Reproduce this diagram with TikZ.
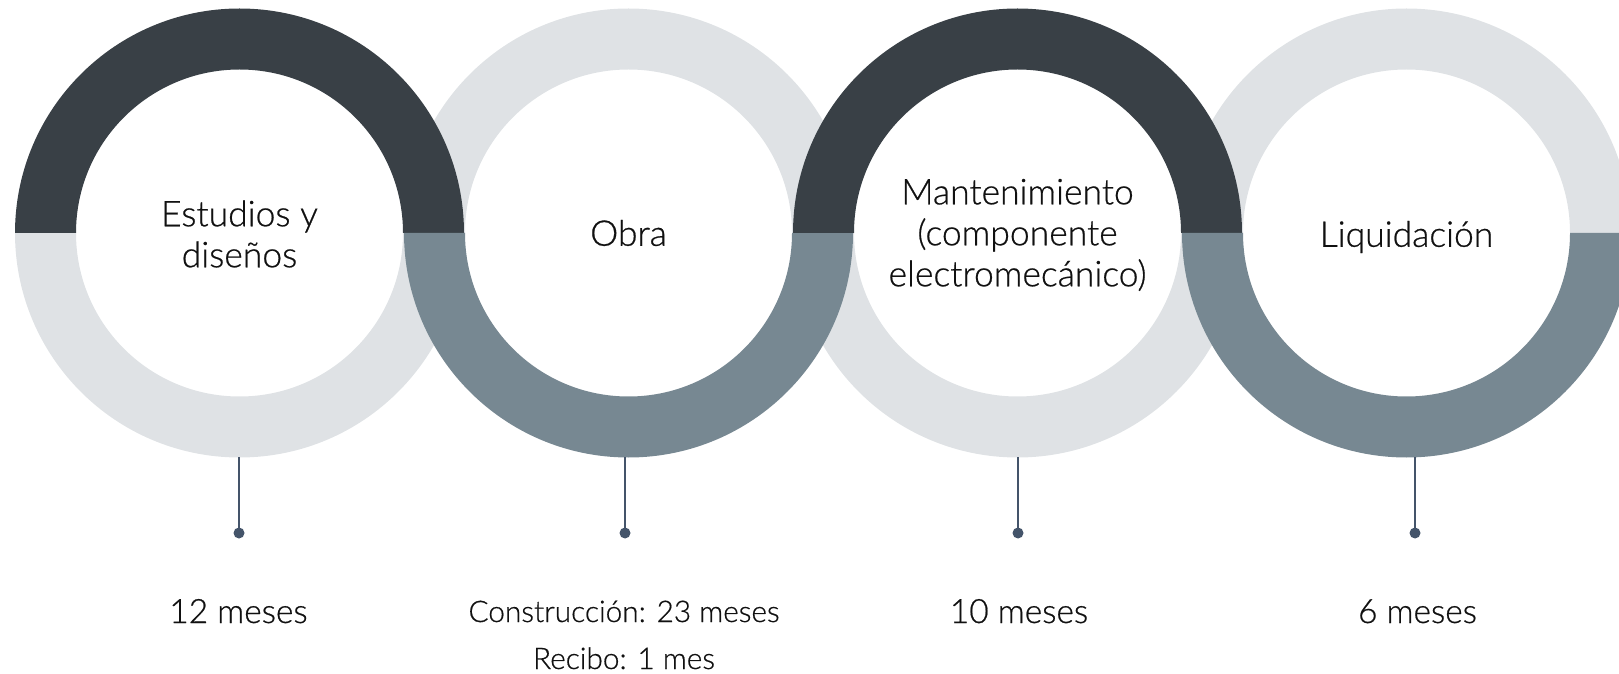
\documentclass[tikz,border=0pt]{standalone}
\usepackage{fontspec}
\IfFontExistsTF{Lato Light}{\setmainfont{Lato Light}[FakeBold=0.6]}{\setmainfont{Lato}}
\definecolor{ringdark}{HTML}{394046}
\definecolor{ringlight}{HTML}{DFE2E5}
\definecolor{ringmid}{HTML}{778892}
\definecolor{stem}{HTML}{44546A}
\definecolor{txt}{HTML}{111111}
\tikzset{
  stemline/.style={draw=stem, line width=2.5pt},
  stemdot/.style={circle, fill=stem, inner sep=0pt, minimum size=11pt},
  ringlabel/.style={align=center, text=txt, font=\fontsize{35.5}{41}\selectfont, inner sep=0pt},
  timelabel/.style={anchor=base, text=txt, font=\fontsize{33.5}{38}\selectfont, inner sep=0pt},
  timelabelsm/.style={anchor=base, text=txt, font=\fontsize{29.8}{34}\selectfont, inner sep=0pt}
}
\newcommand{\tophalf}[2]{%
  \fill[#2] (#1) ++(224.5,0) arc[start angle=0,end angle=180,radius=224.5] -- ++(61,0)
     arc[start angle=180,end angle=0,radius=163.5] -- cycle;}
\newcommand{\bothalf}[2]{%
  \fill[#2] (#1) ++(224.5,0) arc[start angle=0,end angle=-180,radius=224.5] -- ++(61,0)
     arc[start angle=-180,end angle=0,radius=163.5] -- cycle;}
\begin{document}
\begin{tikzpicture}[x=1pt,y=1pt]
\useasboundingbox (0,0) rectangle (1619,673);
\clip (0,0) rectangle (1619,673);
\coordinate (c1) at (239.5,440);
\coordinate (c2) at (628.5,440);
\coordinate (c3) at (1017.5,440);
\coordinate (c4) at (1406.5,440);
% light halves first
\bothalf{c1}{ringlight}
\tophalf{c2}{ringlight}
\bothalf{c3}{ringlight}
\tophalf{c4}{ringlight}
% dark and mid halves on top
\tophalf{c1}{ringdark}
\bothalf{c2}{ringmid}
\tophalf{c3}{ringdark}
\bothalf{c4}{ringmid}
% labels in the rings
\node[ringlabel] (l1) at ([yshift=-1]c1) {Estudios y\\diseños};
\node[ringlabel] (l2) at (c2) {Obra};
\node[ringlabel] (l3) at ([yshift=-2]c3) {Mantenimiento\\(componente\\electromecánico)};
\node[ringlabel] (l4) at ([yshift=-4]c4) {Liquidación};
% stems
\coordinate (b1) at (239,216);
\coordinate (b2) at (625,216);
\coordinate (b3) at (1018,216);
\coordinate (b4) at (1415,216);
\node[stemdot] (d1) at (239,140) {};
\node[stemdot] (d2) at (625,140) {};
\node[stemdot] (d3) at (1018,140) {};
\node[stemdot] (d4) at (1415,140) {};
\draw[stemline] (b1) -- (d1.center);
\draw[stemline] (b2) -- (d2.center);
\draw[stemline] (b3) -- (d3.center);
\draw[stemline] (b4) -- (d4.center);
% durations
\node[timelabel] (t1) at (238.5,50) {12 meses};
\node[timelabelsm] (t2a) at (624,51) {Construcción: 23 meses};
\node[timelabelsm] (t2b) at (624,4) {Recibo: 1 mes};
\node[timelabel] (t3) at (1019,50) {10 meses};
\node[timelabel] (t4) at (1417.5,50) {6 meses};
\end{tikzpicture}
\end{document}
